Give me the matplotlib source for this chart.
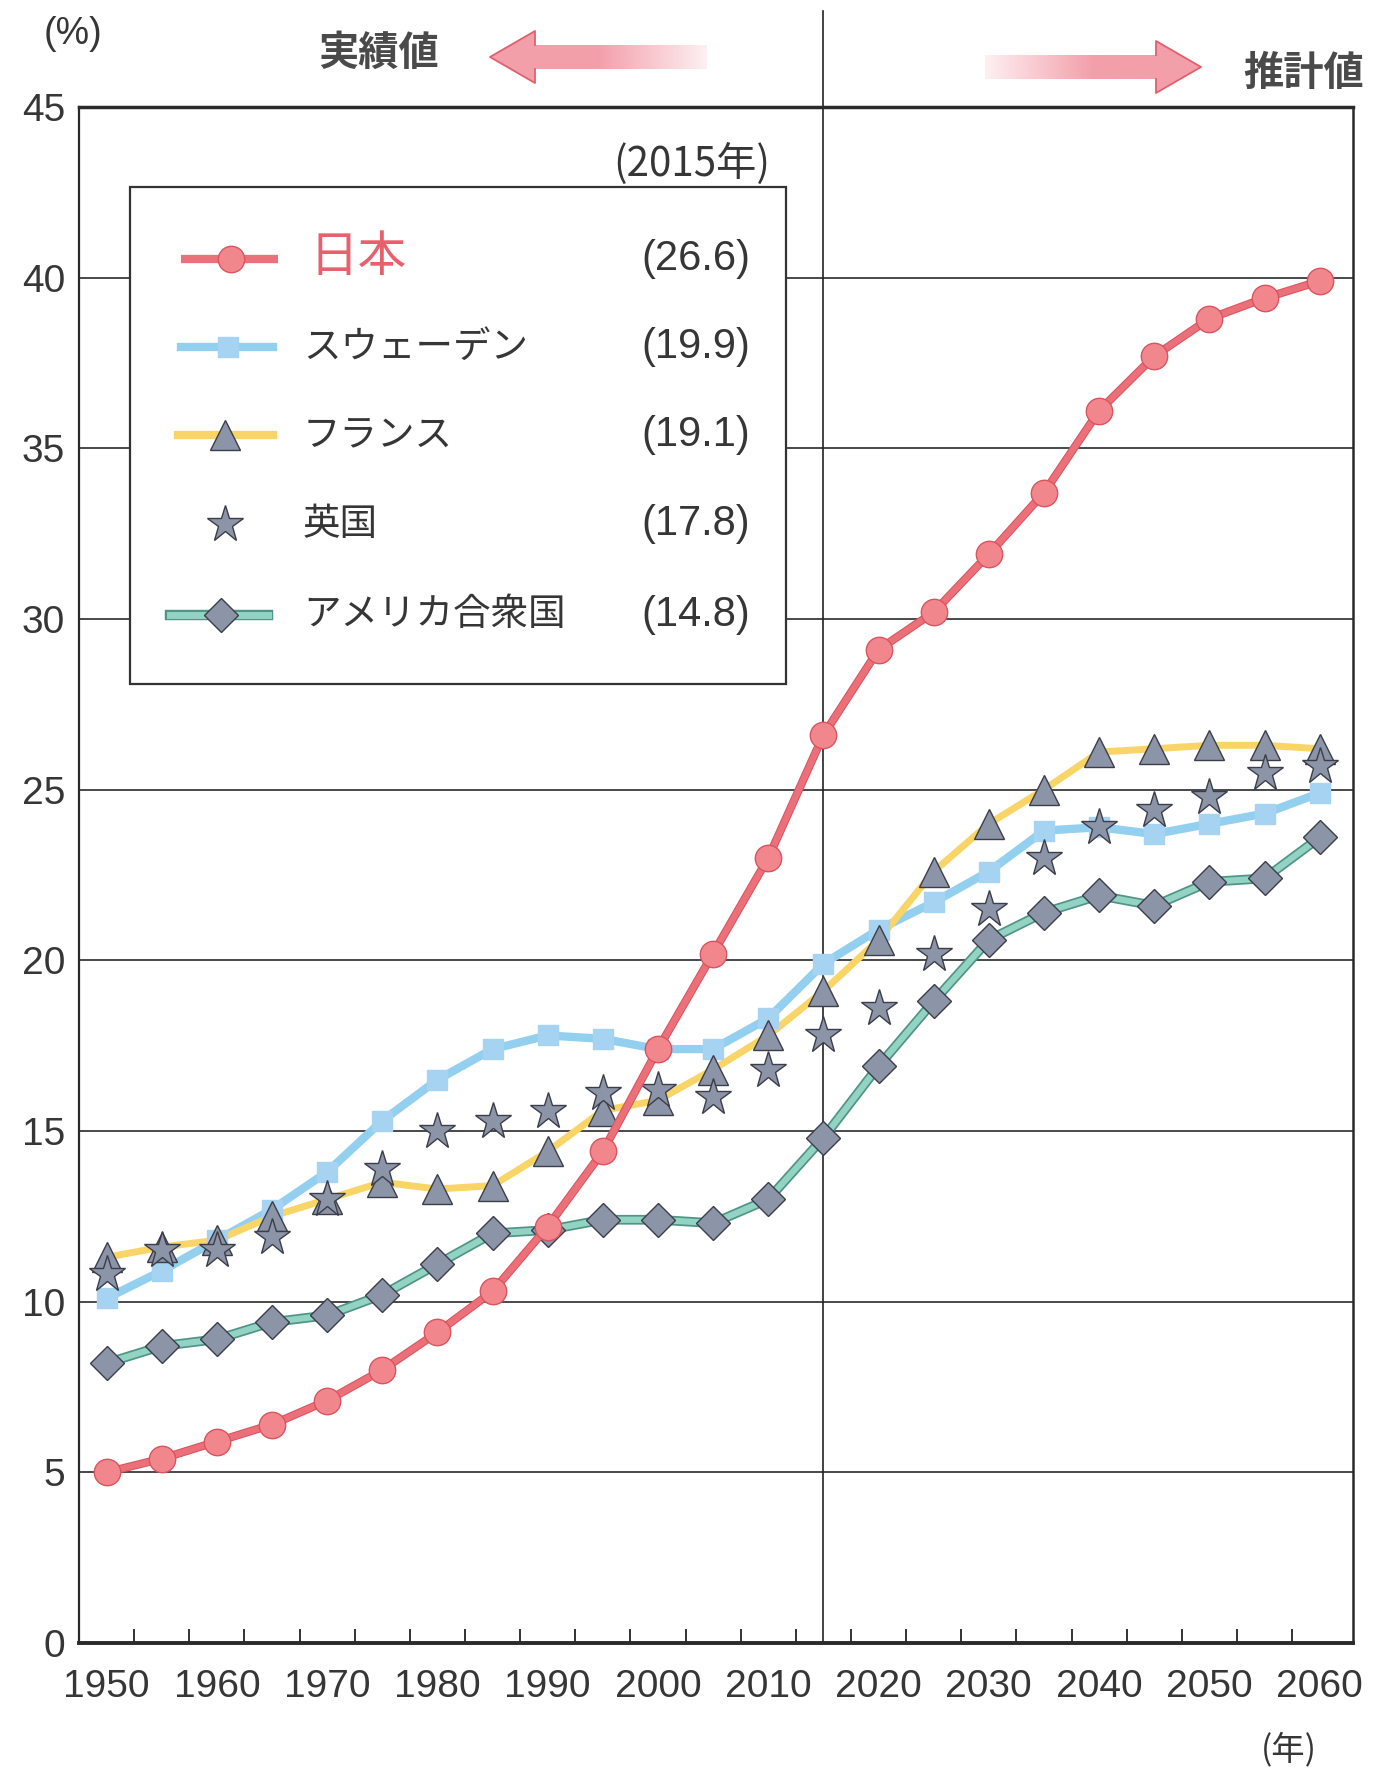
import numpy as np
import matplotlib
matplotlib.use("Agg")
import matplotlib.pyplot as plt
import matplotlib.patheffects as pe
from matplotlib import font_manager
from matplotlib.colors import to_rgb
from matplotlib.patches import Polygon, Rectangle

plt.rcParams['font.family'] = ['Noto Sans CJK JP', 'DejaVu Sans']

# 65歳以上人口の割合（%）, 5年ごと
years = [1950, 1955, 1960, 1965, 1970, 1975, 1980, 1985, 1990, 1995, 2000, 2005,
         2010, 2015, 2020, 2025, 2030, 2035, 2040, 2045, 2050, 2055, 2060]
japan = [5.0, 5.4, 5.9, 6.4, 7.1, 8.0, 9.1, 10.3, 12.2, 14.4, 17.4, 20.2,
         23.0, 26.6, 29.1, 30.2, 31.9, 33.7, 36.1, 37.7, 38.8, 39.4, 39.9]
sweden = [10.1, 10.9, 11.8, 12.7, 13.8, 15.3, 16.5, 17.4, 17.8, 17.7, 17.4, 17.4,
          18.3, 19.9, 20.9, 21.7, 22.6, 23.8, 23.9, 23.7, 24.0, 24.3, 24.9]
france = [11.3, 11.6, 11.8, 12.5, 13.0, 13.5, 13.3, 13.4, 14.4, 15.6, 15.9, 16.8,
          17.8, 19.1, 20.6, 22.6, 24.0, 25.0, 26.1, 26.2, 26.3, 26.3, 26.2]
uk = [10.8, 11.5, 11.5, 11.9, 13.0, 13.9, 15.0, 15.3, 15.6, 16.1, 16.2, 16.0,
      16.8, 17.8, 18.6, 20.2, 21.5, 23.0, 23.9, 24.4, 24.8, 25.5, 25.7]
usa = [8.2, 8.7, 8.9, 9.4, 9.6, 10.2, 11.1, 12.0, 12.1, 12.4, 12.4, 12.3,
       13.0, 14.8, 16.9, 18.8, 20.6, 21.4, 21.9, 21.6, 22.3, 22.4, 23.6]

names = ['日本', 'スウェーデン', 'フランス', '英国', 'アメリカ合衆国']
x_labels = [1950, 1960, 1970, 1980, 1990, 2000, 2010, 2020, 2030, 2040, 2050, 2060]
y_ticks = [0, 5, 10, 15, 20, 25, 30, 35, 40, 45]
base_year = 2015

# 数字用フォント（細めのものがあればそれを使う）
num_font, num_size = 'DejaVu Sans', 24
for fam, size in [('Liberation Sans Narrow', 32), ('Liberation Sans', 28)]:
    try:
        font_manager.findfont(fam, fallback_to_default=False)
        num_font, num_size = fam, size
        break
    except ValueError:
        pass

TXT = '#363636'
GRAY = '#8c94a8'
EDGE = '#3b3e48'

fig = plt.figure(figsize=(13.86, 17.72), dpi=100)
fig.patch.set_facecolor('white')
ax = fig.add_axes([0.057, 0.0728, 0.919, 0.8668])

ax.set_xlim(1947.5, 2063)
ax.set_ylim(0, 45)

# 線
ax.plot(years, sweden, color='#93d0f0', lw=6, solid_capstyle='round', zorder=2)
ax.plot(years, france, color='#f9d567', lw=5, solid_capstyle='round', zorder=2)
ax.plot(years, usa, color='#93d3c3', lw=4.5, zorder=2,
        path_effects=[pe.Stroke(linewidth=7, foreground='#4f9585'), pe.Normal()])
ax.plot(years, japan, color='#ec7079', lw=4.5, zorder=5,
        path_effects=[pe.Stroke(linewidth=6, foreground='#d9545f'), pe.Normal()])

# マーカー
ax.plot(years, sweden, 's', ms=15, mfc='#a6d3f1', mec='#a6d3f1', zorder=3)
ax.plot(years, usa, 'D', ms=17, mfc=GRAY, mec=EDGE, mew=1, zorder=4)
ax.plot(years, france, '^', ms=21, mfc=GRAY, mec=EDGE, mew=1, zorder=4)
ax.plot(years, uk, '*', ms=28, mfc=GRAY, mec=EDGE, mew=1, ls='none', zorder=4)
ax.plot(years, japan, 'o', ms=19, mfc='#f2868d', mec='#d9545f', mew=1, zorder=6)

# 実績値と推計値の境
ax.plot([base_year, base_year], [0, 47.8], color='#222222', lw=1.2,
        clip_on=False, zorder=1)

ax.set_yticks(y_ticks)
ax.grid(axis='y', color='#3a3a3a', lw=1.3, zorder=0)
ax.set_axisbelow(True)
ax.tick_params(axis='y', length=0, pad=10, labelsize=num_size, labelcolor=TXT)
for lab in ax.get_yticklabels():
    lab.set_family(num_font)

ax.set_xticks(x_labels)
ax.set_xticks([(a + b) / 2 for a, b in zip(years[:-1], years[1:])], minor=True)
ax.tick_params(axis='x', which='major', length=0, pad=19,
               labelsize=num_size, labelcolor=TXT)
ax.tick_params(axis='x', which='minor', direction='in', length=10, width=1.4,
               color='#333333')
for lab in ax.get_xticklabels():
    lab.set_family(num_font)

for side, lw in [('top', 2.5), ('bottom', 2.8), ('left', 1.6), ('right', 1.8)]:
    ax.spines[side].set_linewidth(lw)
    ax.spines[side].set_color('#2a2a2a')

# 図全体に重ねる座標系（ピクセル, 上から下）
ov = fig.add_axes([0, 0, 1, 1], zorder=10)
ov.patch.set_alpha(0)
ov.axis('off')


def set_ov_limits():
    ov.set_xlim(0, 1386)
    ov.set_ylim(1772, 0)


set_ov_limits()


def grad_arrow(tip_x, tail_x, yc):
    d = 1 if tail_x > tip_x else -1
    back = tip_x + d * 45
    pts = [(tip_x, yc), (back, yc - 26), (back, yc - 12), (tail_x, yc - 12),
           (tail_x, yc + 12), (back, yc + 12), (back, yc + 26)]
    poly = Polygon(pts, closed=True, fc='none', ec='none')
    ov.add_patch(poly)
    n = 256
    rgba = np.zeros((1, n, 4))
    rgba[..., :3] = to_rgb('#f39aa6')
    rgba[0, :, 3] = np.concatenate([np.full(n // 2, 0.95),
                                    np.linspace(0.95, 0.15, n - n // 2)])
    x0, x1 = tip_x, tail_x
    if d < 0:
        rgba = rgba[:, ::-1]
        x0, x1 = tail_x, tip_x
    im = ov.imshow(rgba, extent=(x0, x1, yc + 27, yc - 27), aspect='auto',
                   interpolation='bilinear', zorder=2)
    im.set_clip_path(poly)
    hx = [back, back, tip_x, back, back]
    hy = [yc - 12, yc - 26, yc, yc + 26, yc + 12]
    ov.plot(hx, hy, color='#e0606e', lw=1.3, zorder=3)


grad_arrow(490, 707, 57)
grad_arrow(1201, 985, 67)
set_ov_limits()

ov.text(73, 34, '(%)', ha='center', va='center', fontsize=27, color=TXT,
        family=[num_font, 'DejaVu Sans'])
ov.text(379, 53, '実績値', ha='center', va='center', fontsize=29,
        fontweight='bold', color='#4a4a4a')
ov.text(1304, 73, '推計値', ha='center', va='center', fontsize=29,
        fontweight='bold', color='#4a4a4a')
ov.text(1289, 1750, '(年)', ha='center', va='center', fontsize=24, color=TXT)
ov.text(770, 164, '(2015年)', ha='right', va='center', fontsize=29, color=TXT)

# 凡例
ov.add_patch(Rectangle((130, 187), 656, 497, fc='white', ec='#333333',
                       lw=1.6, zorder=1))
row_y = [259, 347, 435, 524, 615]
idx = years.index(base_year)
series = [japan, sweden, france, uk, usa]

ov.plot([181, 278], [row_y[0]] * 2, color='#ec7079', lw=6, zorder=2,
        solid_capstyle='butt')
ov.plot([231], [row_y[0]], 'o', ms=19, mfc='#f2868d', mec='#d9545f', zorder=3)
ov.plot([181, 273], [row_y[1]] * 2, color='#93d0f0', lw=6, zorder=2)
ov.plot([228], [row_y[1]], 's', ms=15, mfc='#a6d3f1', mec='#a6d3f1', zorder=3)
ov.plot([178, 273], [row_y[2]] * 2, color='#f9d567', lw=6, zorder=2)
ov.plot([225], [row_y[2]], '^', ms=21, mfc=GRAY, mec=EDGE, mew=1, zorder=3)
ov.plot([225], [row_y[3]], '*', ms=28, mfc=GRAY, mec=EDGE, mew=1, zorder=3)
ov.plot([170, 268], [row_y[4]] * 2, color='#93d3c3', lw=5, zorder=2,
        path_effects=[pe.Stroke(linewidth=7.5, foreground='#4f9585'), pe.Normal()])
ov.plot([221], [row_y[4]], 'D', ms=17, mfc=GRAY, mec=EDGE, mew=1, zorder=3)

for i, (name, s) in enumerate(zip(names, series)):
    if i == 0:
        ov.text(309, row_y[i] - 2, name, ha='left', va='center', fontsize=35,
                color='#e8606c')
    else:
        ov.text(303, row_y[i], name, ha='left', va='center', fontsize=27,
                color=TXT)
    ov.text(750, row_y[i], f'({s[idx]:.1f})', ha='right', va='center',
            fontsize=30, color=TXT, family=['Liberation Sans', 'DejaVu Sans'])

fig.savefig('out.png', dpi=100, facecolor='white')
